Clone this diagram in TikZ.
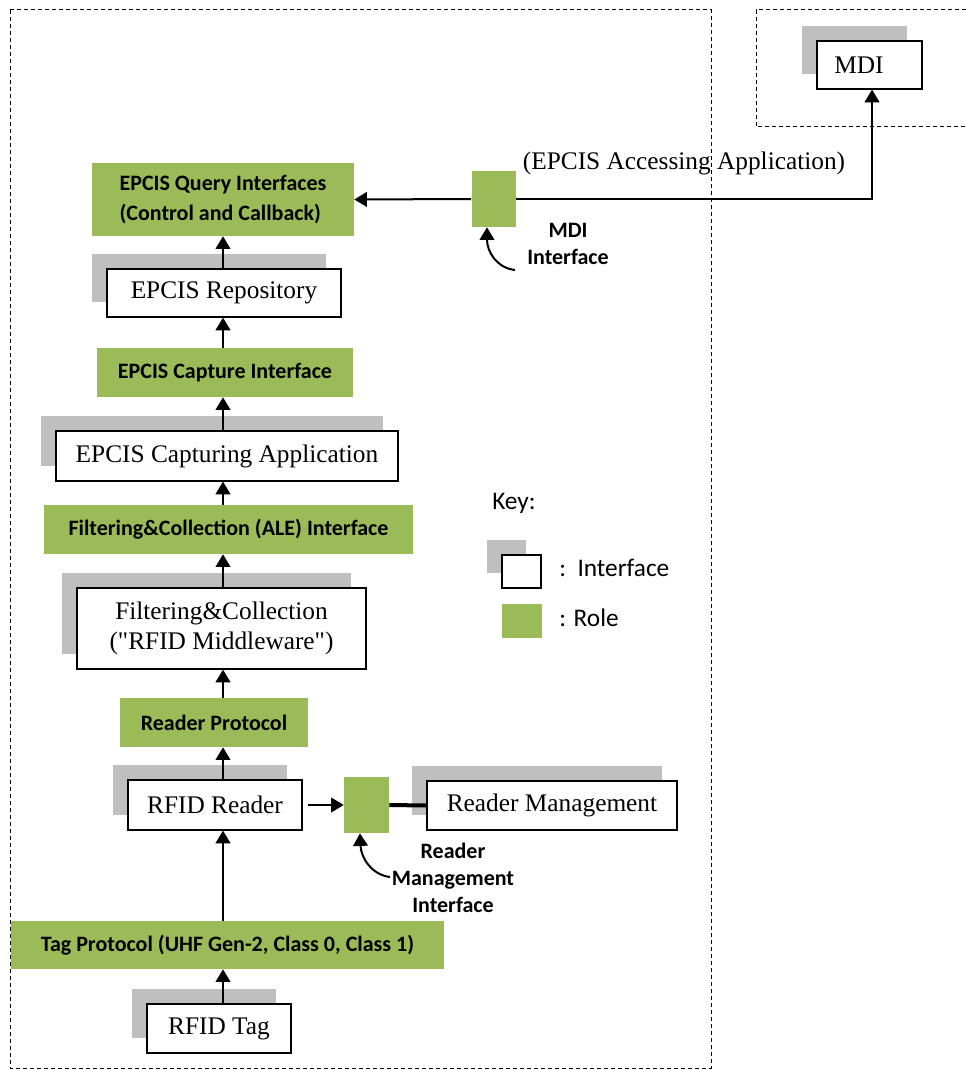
\documentclass[tikz,border=0pt]{standalone}
\usepackage{fontspec}
\setmainfont{Liberation Serif}
\newfontfamily\calfont{Carlito}
\usetikzlibrary{arrows.meta,shadows}
\definecolor{rolegreen}{HTML}{9BBB59}
\definecolor{shadegray}{HTML}{BFBFBF}
\begin{document}
\begin{tikzpicture}[x=0.75pt,y=-0.75pt,
  sz/.style 2 args={minimum width=#1*0.75pt, minimum height=#2*0.75pt},
  iface/.style={draw=black, line width=0.9pt, fill=white, font=\fontsize{19}{22.5}\selectfont, align=center, inner sep=0pt,
    general shadow={fill=shadegray, shadow xshift=-11.25pt, shadow yshift=11.25pt}},
  role/.style={fill=rolegreen, draw=none, inner sep=0pt, font=\calfont\bfseries\fontsize{16.5}{22.5}\selectfont, align=center},
  lbl/.style={font=\calfont\bfseries\fontsize{16.5}{20}\selectfont, align=center, inner sep=0pt},
  keyfont/.style={font=\calfont\fontsize{19}{22}\selectfont, inner sep=0pt, anchor=west},
  arr/.style={line width=1.5pt, -{Triangle[width=11pt,length=9.5pt]}},
  frame/.style={line width=0.75pt, dash pattern=on 3pt off 2.25pt},
]
\useasboundingbox (0,0) rectangle (966,1070);
% frames
\draw[frame] (10,10) rectangle (711,1068);
\draw[frame] (980,10) -- (756,10) -- (756,127) -- (980,127);
% main stack
\node[role, sz={262}{73}, align=left] (query) at (223,199.5) {EPCIS Query Interfaces\\(Control and Callback)};
\node[iface, sz={234}{48}] (repo) at (224,293) {EPCIS Repository};
\node[role, sz={256}{49}] (capi) at (225,372.5) {EPCIS Capture Interface};
\node[iface, sz={342}{50}] (capapp) at (227,456) {EPCIS Capturing Application};
\node[role, sz={369}{49}] (ale) at (228.5,529.5) {Filtering\&Collection (ALE) Interface};
\node[iface, sz={289}{81}] (fc) at (221.5,628.5) {Filtering\&Collection\\(\textquotedbl RFID Middleware\textquotedbl)};
\node[role, sz={188}{49}] (rp) at (214,722.5) {Reader Protocol};
\node[iface, sz={174}{50}] (reader) at (215,805) {RFID Reader};
\node[role, sz={433}{48}] (tagp) at (227.5,945) {Tag Protocol (UHF Gen-2, Class 0, Class 1)};
\node[iface, sz={144}{49}] (tag) at (219,1028.5) {RFID Tag};
% side parts
\node[iface, sz={250}{49}] (mgmt) at (552,805.5) {Reader Management};
\node[role, sz={45}{56}] (rmsq) at (366.5,805) {};
\node[role, sz={44}{56}] (mdisq) at (493.5,199) {};
\node[iface, sz={105}{48}, text width=78.75pt-12pt, align=left, inner xsep=6pt] (mdi) at (869.5,65) {\hspace*{7pt}MDI};
% connectors
\coordinate (spine) at (223,0);
\draw[arr] (tag.north -| spine) -- (tagp.south -| spine);
\draw[arr] (tagp.north -| spine) -- (reader.south -| spine);
\draw[arr] (reader.north -| spine) -- (rp.south -| spine);
\draw[arr] (rp.north -| spine) -- (fc.south -| spine);
\draw[arr] (fc.north -| spine) -- (ale.south -| spine);
\draw[arr] (ale.north -| spine) -- (capapp.south -| spine);
\draw[arr] (capapp.north -| spine) -- (capi.south -| spine);
\draw[arr] (capi.north -| spine) -- (repo.south -| spine);
\draw[arr] (repo.north -| spine) -- (query.south -| spine);
\draw[arr] ([xshift=3.75pt]reader.east) -- (rmsq.west);
\draw[line width=3pt] (rmsq.east) -- (mgmt.west);
\draw[arr] (mdisq.west) -- (query.east);
\draw[arr] (mdisq.east) -| ([xshift=1.9pt]mdi.south);
% curved pointers
\coordinate (c1) at (515,270);
\draw[arr] (c1) .. controls (497,268) and (487,252) .. ([xshift=-4.9pt]mdisq.south);
\coordinate (c2) at (390,877);
\draw[arr] (c2) .. controls (372,875) and (361,858) .. ([xshift=-4.9pt]rmsq.south);
% labels
\node[font=\fontsize{19}{22}\selectfont, inner sep=0pt] (acc) at (684,163) {(EPCIS Accessing Application)};
\node[lbl] (mdilbl) at (568,244) {MDI\\Interface};
\node[lbl] (rmlbl) at (453,878) {Reader\\Management\\Interface};
% key
\node[keyfont] (keyt) at (492,503) {Key:};
\node[iface, sz={39}{33}] (kif) at (521.5,571.5) {};
\node[keyfont] (kift) at (559,568) {:\ \ Interface};
\node[role, sz={40}{34}] (krole) at (522,621) {};
\node[keyfont] (krt) at (559,618) {: Role};
\end{tikzpicture}
\end{document}
